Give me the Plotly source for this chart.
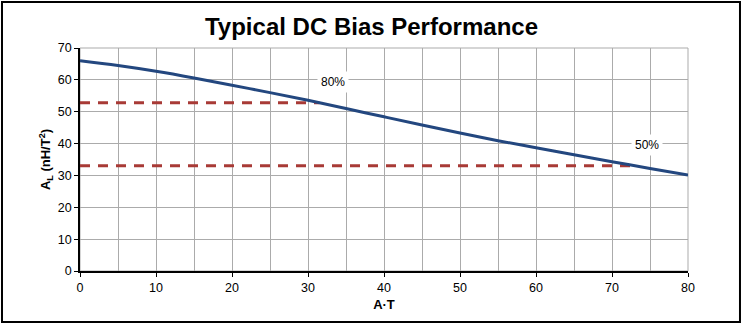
import plotly.graph_objects as go

at = [0, 5, 10, 15, 20, 25, 30, 35, 40, 45, 50, 55, 60, 65, 70, 75, 80]
al = [66.0, 64.5, 62.7, 60.6, 58.3, 56.0, 53.6, 51.0, 48.4, 45.8, 43.3, 40.9, 38.7, 36.5, 34.3, 32.2, 30.1]

ref80_x = [0, 31.5]
ref80_y = [52.8, 52.8]
ref50_x = [0, 72.8]
ref50_y = [33.0, 33.0]

labels = ["80%", "50%"]
label_x = [33.3, 74.6]
label_y = [59.3, 39.5]

fig = go.Figure()
fig.add_trace(go.Scatter(x=ref80_x, y=ref80_y, mode="lines",
                         line=dict(color="#A83A36", width=3, dash="10px,8px"), showlegend=False))
fig.add_trace(go.Scatter(x=ref50_x, y=ref50_y, mode="lines",
                         line=dict(color="#A83A36", width=3, dash="10px,8px"), showlegend=False))
fig.add_trace(go.Scatter(x=at, y=al, mode="lines", line=dict(color="#23477F", width=3, shape="spline"),
                         showlegend=False))

for t, x, y in zip(labels, label_x, label_y):
    fig.add_annotation(x=x, y=y, text=t, showarrow=False, bgcolor="white",
                       font=dict(family="Liberation Sans, Arial", size=12, color="black"),
                       borderpad=3)

fig.add_shape(type="rect", xref="paper", yref="paper", x0=0, x1=1, y0=0, y1=1,
              line=dict(color="#ABABAB", width=1), layer="below")
fig.add_shape(type="rect", xref="paper", yref="paper", x0=-0.1283, x1=1.0855, y0=-0.2287, y1=1.2063,
              line=dict(color="black", width=2))

fig.update_layout(
    width=743, height=326,
    margin=dict(l=80, r=55, t=48, b=55),
    paper_bgcolor="white", plot_bgcolor="white",
    title=dict(text="<b>Typical DC Bias Performance</b>", x=0.5, xref="container", xanchor="center",
               y=0.917, yanchor="middle",
               font=dict(family="Liberation Sans, Arial", size=24, color="black")),
    font=dict(family="Liberation Sans, Arial", size=12, color="black"),
)
fig.update_xaxes(range=[0, 80], dtick=10, tick0=0, showgrid=True, gridcolor="#ABABAB", gridwidth=1,
                 minor=dict(dtick=5, showgrid=True, gridcolor="#ABABAB", gridwidth=1),
                 showline=True, linecolor="black", linewidth=1.5, ticks="outside", ticklen=4,
                 tickcolor="black", zeroline=False, tickfont=dict(size=12.5),
                 title=dict(text="<b>A·T</b>", standoff=6, font=dict(size=13)))
fig.update_yaxes(range=[0, 70], dtick=10, tick0=0, showgrid=True, gridcolor="#ABABAB", gridwidth=1,
                 showline=True, linecolor="black", linewidth=1.5, ticks="outside", ticklen=4,
                 tickcolor="black", zeroline=False, tickfont=dict(size=12.5),
                 title=dict(text="<b>A<sub>L</sub> (nH/T<sup>2</sup>)</b>", standoff=4, font=dict(size=13)))

fig.write_html("out.html")
